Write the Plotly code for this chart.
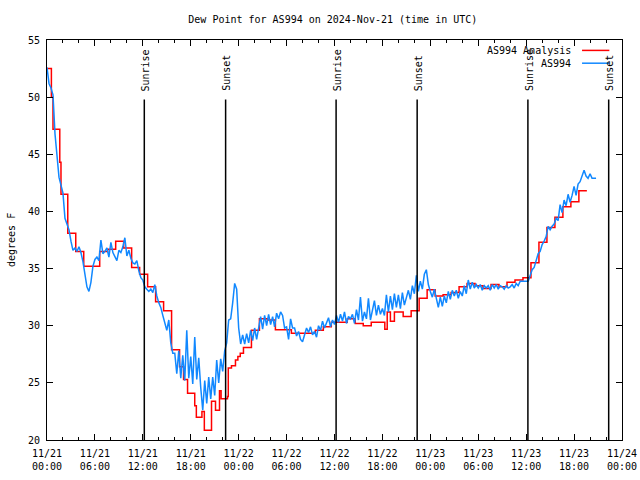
import plotly.graph_objects as go
from datetime import datetime, timedelta

START = datetime(2024, 11, 21)

# Analysis (red) - step changes: hours since start, value
red_hours = [0, 0.55, 0.75, 1.6, 1.75, 2.6, 3.6, 4.6, 6.6, 7.6, 8.6, 9.6, 10.6, 11.6, 12.6,
             13.6, 14.6, 15.6, 16.6, 17.1, 17.6, 18.5, 18.7, 19.4, 19.7, 20.6, 21.1, 21.6, 21.8,
             22.6, 22.7, 23.1, 23.6, 23.9, 24.2, 24.6, 25.6, 26.6, 27.6, 28.6, 29.6, 30.6, 31.6,
             32.6, 33.6, 34.6, 35.6, 36.6, 37.6, 38.6, 39.6, 40.6, 41.6, 42.3, 42.6, 43.0, 43.5,
             44.6, 45.6, 46.6, 47.6, 48.6, 49.6, 50.6, 51.6, 52.6, 53.6, 54.6, 55.6, 56.6, 57.6,
             58.6, 59.6, 60.6, 61.6, 62.6, 63.6, 64.6, 65.6, 66.6, 67.6]
red_vals = [52.5, 50.0, 47.2, 44.3, 41.5, 38.1, 36.5, 35.2, 36.5, 36.7, 37.4, 36.8, 35.1, 34.5, 33.4,
            32.1, 31.3, 27.9, 26.4, 25.3, 24.1, 23.0, 22.0, 22.5, 20.85, 23.4, 22.6, 24.3, 23.6,
            23.8, 26.3, 26.5, 27.0, 27.3, 27.6, 28.1, 29.6, 30.6, 30.5, 29.65, 29.65, 29.35, 29.35,
            29.35, 29.6, 29.9, 30.3, 30.3, 30.6, 30.2, 30.0, 30.3, 30.3, 29.7, 31.2, 30.4, 31.2,
            30.8, 31.3, 32.4, 33.15, 32.6, 32.7, 32.9, 33.4, 33.7, 33.5, 33.25, 33.6, 33.4, 33.8,
            34.0, 34.2, 35.5, 37.3, 38.6, 39.5, 40.4, 40.85, 41.8, 41.8]

# Observations (blue) - every 15 minutes from start
blue_vals = [
    52.6, 51.2, 50.8, 50.2,
    46.8, 45.0, 43.0, 42.3,
    41.6, 39.4, 38.8, 38.4,
    37.4, 36.6, 36.8, 36.5,
    36.9, 36.4, 35.6, 34.4,
    33.4, 33.0, 33.8, 35.2,
    35.8, 36.0, 35.7, 37.5,
    36.3, 36.5, 36.8, 36.0,
    37.3, 36.4, 36.0, 35.7,
    36.6, 36.4, 36.9, 37.7,
    36.1, 36.6, 35.9, 35.5,
    35.4, 35.7, 34.8, 34.2,
    34.0, 33.4, 33.2, 33.0,
    33.2, 32.9, 33.6, 32.6,
    32.0, 31.6, 30.9, 30.2,
    29.6, 30.5, 28.5, 27.6,
    27.6, 25.8, 27.8, 25.4,
    27.4, 25.2, 29.6, 25.4,
    27.3, 24.9, 29.0, 25.3,
    27.2, 24.6, 22.6, 25.2,
    23.2, 25.5, 23.6, 25.5,
    23.9, 27.0, 25.0, 27.1,
    26.0, 27.8, 28.5, 30.5,
    30.6, 32.0, 33.7, 33.2,
    29.8, 28.4, 29.2, 28.4,
    29.3, 28.5, 29.6, 28.7,
    29.8, 28.8, 30.0, 30.8,
    29.7, 30.9, 30.0, 31.0,
    30.1, 30.8, 29.9, 31.1,
    30.6, 31.2, 30.9, 29.8,
    29.9, 28.8, 30.6, 29.8,
    29.8, 29.1, 29.5, 28.8,
    28.6, 29.3, 29.8, 29.4,
    29.9, 29.2, 29.5, 29.0,
    30.0, 29.6, 30.4, 29.8,
    30.2, 30.7, 29.9, 30.5,
    30.1, 30.9, 30.3, 31.0,
    30.4, 31.2, 30.2, 30.8,
    30.6, 31.0, 30.2, 31.4,
    30.5, 32.5, 30.4, 31.2,
    30.6, 32.4, 30.5, 31.3,
    32.2, 30.9, 31.8, 31.0,
    31.5, 30.9, 32.7, 31.2,
    32.6, 31.4, 32.8, 31.6,
    32.7, 31.5, 32.9, 31.8,
    32.5, 33.1, 32.3, 33.5,
    32.8, 34.4, 33.0, 33.9,
    33.2, 34.5, 34.9, 33.6,
    33.0, 32.5, 33.2, 32.4,
    31.6, 32.5, 31.7, 32.6,
    32.0, 33.0, 32.3, 33.1,
    32.6, 33.1, 32.4, 33.0,
    32.6, 33.5, 32.8, 34.0,
    33.2, 33.8, 33.3, 33.6,
    33.3, 33.6, 33.1, 33.5,
    33.3, 33.5, 33.1, 33.6,
    33.3, 33.6, 33.2, 33.5,
    33.4, 33.2, 33.5, 33.3,
    33.4, 33.6, 33.3, 33.7,
    33.5, 33.9, 33.9, 33.9,
    33.9, 33.9, 34.4, 34.9,
    35.1, 35.8, 36.3, 36.5,
    37.1, 37.4, 37.8, 38.7,
    38.4, 38.7, 38.9, 39.4,
    39.2, 40.6, 39.9, 41.0,
    40.5, 41.5, 40.8, 41.4,
    42.2, 41.4, 42.4, 42.6,
    43.2, 43.6, 43.1, 42.9,
    43.3, 42.9, 42.9, 42.9,
]
blue_step_minutes = 15

sunrise_times = ["2024-11-21 12:11", "2024-11-22 12:12", "2024-11-23 12:13"]
sunset_times = ["2024-11-21 22:22", "2024-11-22 22:21", "2024-11-23 22:20"]

title_text = "Dew Point for AS994 on 2024-Nov-21 (time in UTC)"
ytitle = "degrees F"
legend_names = ["AS994 Analysis", "AS994"]
colors = ["#ff0000", "#1188ff"]

FONT = "DejaVu Sans Mono"

red_x = [START + timedelta(hours=h) for h in red_hours]
blue_x = [START + timedelta(minutes=blue_step_minutes * i) for i in range(len(blue_vals))]

fig = go.Figure()
fig.add_trace(go.Scatter(x=red_x, y=red_vals, mode="lines", line=dict(color=colors[0], width=1.5, shape="hv"),
                         name=legend_names[0], showlegend=False))
fig.add_trace(go.Scatter(x=blue_x, y=blue_vals, mode="lines", line=dict(color=colors[1], width=1.5),
                         name=legend_names[1], showlegend=False))

# sunrise / sunset markers
for t in sunrise_times:
    fig.add_shape(type="line", xref="x", yref="paper", x0=t, x1=t, y0=0, y1=0.851,
                  line=dict(color="black", width=1.5))
    fig.add_annotation(x=t, y=0.867, xref="x", yref="paper", text="Sunrise", textangle=-90,
                       showarrow=False, xanchor="center", yanchor="bottom", xshift=1,
                       font=dict(family=FONT, size=10, color="black"))
for t in sunset_times:
    fig.add_shape(type="line", xref="x", yref="paper", x0=t, x1=t, y0=0, y1=0.851,
                  line=dict(color="black", width=1.5))
    fig.add_annotation(x=t, y=0.867, xref="x", yref="paper", text="Sunset", textangle=-90,
                       showarrow=False, xanchor="center", yanchor="bottom", xshift=1,
                       font=dict(family=FONT, size=10, color="black"))

# custom legend (text left of line sample, like gnuplot)
leg_y = [0.974, 0.942]
for name, col, yy in zip(legend_names, colors, leg_y):
    fig.add_annotation(x=0.9155, y=yy, xref="paper", yref="paper", text=name, showarrow=False,
                       xanchor="right", yanchor="middle", font=dict(family=FONT, size=10, color="black"))
    fig.add_shape(type="line", xref="paper", yref="paper", x0=0.9305, x1=0.978, y0=yy, y1=yy,
                  line=dict(color=col, width=1.5))

fig.add_annotation(x=0, y=0.5, xref="paper", yref="paper", text=ytitle, textangle=-90, showarrow=False,
                   xanchor="center", yanchor="middle", xshift=-36,
                   font=dict(family=FONT, size=10, color="black"))

fig.update_layout(
    width=640, height=480,
    margin=dict(l=47, r=18, t=40, b=40, autoexpand=False),
    paper_bgcolor="white", plot_bgcolor="white",
    font=dict(family=FONT, size=10, color="black"),
    title=dict(text=title_text, x=0.52, xanchor="center", y=0.96, yanchor="middle",
               font=dict(family=FONT, size=10, color="black")),
    showlegend=False,
)
fig.update_xaxes(
    type="date", range=["2024-11-21 00:00", "2024-11-24 00:00"],
    dtick=6 * 3600 * 1000, tick0="2024-11-21 00:00", tickformat="%m/%d<br>%H:%M",
    ticks="inside", ticklen=6, tickcolor="black", tickwidth=1,
    minor=dict(dtick=2 * 3600 * 1000, ticks="inside", ticklen=3, tickcolor="black"),
    showline=True, linecolor="black", linewidth=1, mirror="ticks",
    showgrid=False, zeroline=False, ticklabelstandoff=4,
)
fig.update_yaxes(
    range=[20, 55], dtick=5, tick0=20,
    ticks="inside", ticklen=6, tickcolor="black", tickwidth=1,
    showline=True, linecolor="black", linewidth=1, mirror="ticks",
    showgrid=False, zeroline=False, ticklabelstandoff=4,
)

fig.write_html(
    "out.html",
    config={"displayModeBar": False},
    post_script="document.body.style.margin='0px';document.body.style.overflow='hidden';",
)
